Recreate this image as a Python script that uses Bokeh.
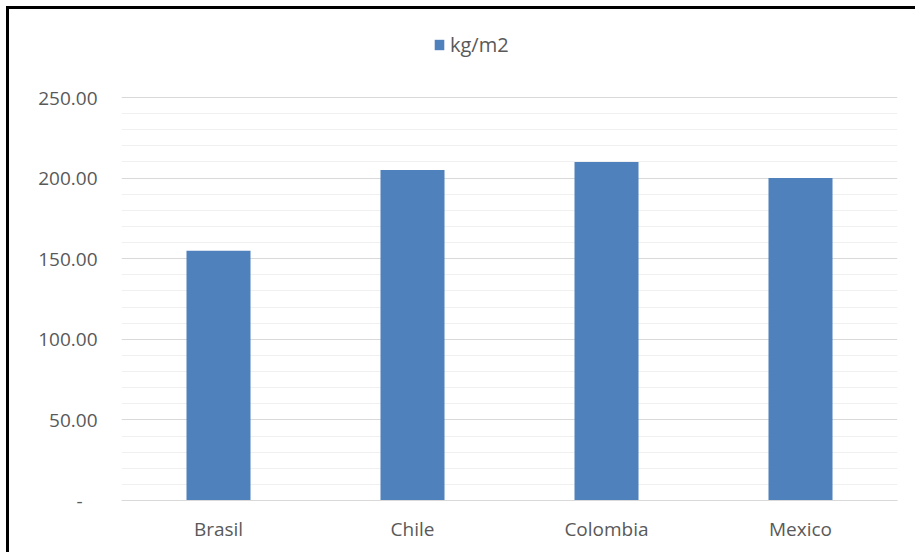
from bokeh.plotting import figure
from bokeh.layouts import column
from bokeh.models import (ColumnDataSource, Range1d, FixedTicker, Legend,
                          LegendItem, FactorRange)
from bokeh.embed import file_html
from bokeh.resources import INLINE

countries = ["Brasil", "Chile", "Colombia", "Mexico"]
kg_m2 = [155, 205, 210, 200]
series_name = "kg/m2"
y_ticks = [0, 50, 100, 150, 200, 250]
y_minor_ticks = [v for v in range(10, 250, 10) if v % 50]
y_tick_labels = ["-\u00a0\u00a0\u00a0", "50.00", "100.00", "150.00", "200.00", "250.00"]

FONT = "Open Sans"
TXT = "#595959"
BAR = "#4f81bd"

# geometry (pixels inside the figure canvas)
W, H = 910, 543
FRAME_LEFT, FRAME_RIGHT = 112, 22
FRAME_BOTTOM = 52
TOP_LINE_PX = 88          # canvas y of the 250 gridline
frame_h = H - FRAME_BOTTOM
y_end = 250 * frame_h / (frame_h - TOP_LINE_PX)

src = ColumnDataSource(data=dict(x=countries, y=kg_m2))

p = figure(width=W, height=H, x_range=FactorRange(*countries), y_range=Range1d(0, y_end),
           output_backend="svg", toolbar_location=None,
           min_border_left=FRAME_LEFT, min_border_right=FRAME_RIGHT, min_border_top=0,
           min_border_bottom=FRAME_BOTTOM,
           background_fill_color="white", border_fill_color="white")
p.outline_line_color = None

r = p.vbar(x="x", top="y", width=0.33, source=src, fill_color=BAR, line_color=None)

# axes
p.yaxis.ticker = FixedTicker(ticks=y_ticks, minor_ticks=y_minor_ticks)
p.yaxis.major_label_overrides = {t: l for t, l in zip(y_ticks, y_tick_labels)}
p.yaxis.axis_line_color = None
p.yaxis.major_tick_line_color = None
p.yaxis.minor_tick_line_color = None
p.yaxis.major_label_standoff = 18
p.yaxis.major_label_text_font = FONT
p.yaxis.major_label_text_font_size = "19px"
p.yaxis.major_label_text_color = TXT

p.xaxis.axis_line_color = "#d9d9d9"
p.xaxis.axis_line_width = 1
p.xaxis.major_tick_line_color = None
p.xaxis.minor_tick_line_color = None
p.xaxis.major_label_standoff = 9
p.xaxis.major_label_text_font = FONT
p.xaxis.major_label_text_font_size = "19px"
p.xaxis.major_label_text_color = TXT

p.xgrid.grid_line_color = None
p.ygrid.grid_line_color = "#d9d9d9"
p.ygrid.minor_grid_line_color = "#f0f0f0"

legend = Legend(items=[LegendItem(label=series_name, renderers=[r])],
                location=(312, 442), orientation="horizontal",
                glyph_width=12, glyph_height=13, label_standoff=5,
                padding=0, margin=0, border_line_color=None, background_fill_alpha=0,
                label_text_font=FONT, label_text_font_size="20px", label_text_color=TXT)
p.add_layout(legend, "center")

layout = column(p, margin=(6, 0, 0, 6),
                styles={"border-top": "3px solid black", "border-left": "3px solid black"})

open("out.html", "w").write(file_html(layout, INLINE))
